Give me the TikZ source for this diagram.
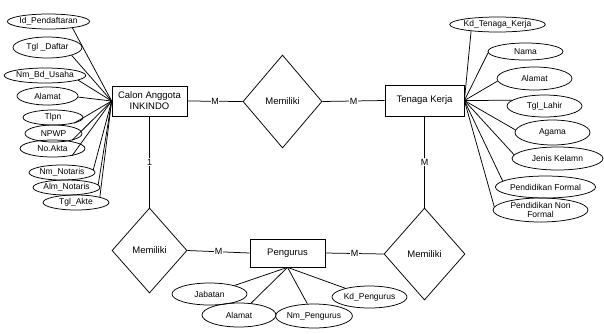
\documentclass[tikz,border=0pt]{standalone}
\usepackage{fontspec}
\setmainfont{Liberation Sans}
\usetikzlibrary{shapes.geometric}

\begin{document}
\begin{tikzpicture}[x=1pt, y=-1pt,
  entity/.style={draw, line width=0.75pt, rectangle, inner sep=0pt, align=center, font=\fontsize{9.5}{11}\selectfont},
  relation/.style={draw, line width=0.75pt, diamond, inner sep=0pt, font=\fontsize{9.5}{11}\selectfont},
  attrib/.style={draw, line width=0.75pt, ellipse, inner sep=0pt, align=center, font=\fontsize{8.5}{9.5}\selectfont},
  link/.style={line width=0.75pt},
  card/.style={fill=white, inner sep=0.5pt, font=\fontsize{9}{10}\selectfont}]
  \useasboundingbox (0,0) rectangle (604,333);
  % entities
  \node[entity, minimum width=75pt, minimum height=30pt] (calon) at (149.5,101) {Calon Anggota\\INKINDO};
  \node[entity, minimum width=79pt, minimum height=31pt] (tenaga) at (424.5,100.5) {Tenaga Kerja};
  \node[entity, minimum width=75pt, minimum height=28pt] (pengurus) at (287.5,253) {Pengurus};
  % relations
  \node[relation, minimum width=79pt, minimum height=93pt] (memTop) at (282.5,101.5) {Memiliki};
  \node[relation, minimum width=75pt, minimum height=85pt] (memLeft) at (149.5,250.5) {Memiliki};
  \node[relation, minimum width=81pt, minimum height=92pt] (memRight) at (424.5,254) {Memiliki};
  % relation lines
  \draw[link] (calon.east) -- node[card]{M} (memTop.west);
  \draw[link] (memTop.east) -- node[card]{M} (tenaga.west);
  \draw[link] (calon.south) -- node[card]{1} (memLeft.north);
  \draw[link] (tenaga.south) -- node[card]{M} (memRight.north);
  \draw[link] (memLeft.east) -- node[card]{M} (pengurus.west);
  \draw[link] (pengurus.east) -- node[card]{M} (memRight.west);
  % attributes of Calon Anggota INKINDO
  \node[attrib, minimum width=72pt, minimum height=15pt] (idDaftar) at (48.5,21.5) {Id\_Pendaftaran};
  \node[attrib, minimum width=69pt, minimum height=21pt] (tglDaftar) at (47.5,47.5) {Tgl \_Daftar};
  \node[attrib, minimum width=66pt, minimum height=15pt] (nmUsaha) at (45,75.5) {Nm\_Bd\_Usaha};
  \node[attrib, minimum width=61pt, minimum height=18pt] (alamatCalon) at (47.5,96) {Alamat};
  \node[attrib, minimum width=60pt, minimum height=15pt] (tlpn) at (53,117.5) {Tlpn};
  \node[attrib, minimum width=57pt, minimum height=17pt] (npwp) at (53.5,133.5) {NPWP};
  \node[attrib, minimum width=65pt, minimum height=17pt] (noAkta) at (52.5,148.5) {No.Akta};
  \node[attrib, minimum width=66pt, minimum height=15pt] (nmNotaris) at (62,172.5) {Nm\_Notaris};
  \node[attrib, minimum width=67pt, minimum height=15pt] (almNotaris) at (66.5,187.5) {Alm\_Notaris};
  \node[attrib, minimum width=66pt, minimum height=15pt] (tglAkte) at (76,202.5) {Tgl\_Akte};
  \draw[link] (idDaftar.-15) -- (calon.west);
  \draw[link] (tglDaftar.-18) -- (calon.west);
  \draw[link] (nmUsaha.-8) -- (calon.west);
  \draw[link] (alamatCalon.-2) -- (calon.west);
  \draw[link] (tlpn.-15) -- (calon.west);
  \draw[link] (npwp.-20) -- (calon.west);
  \draw[link] (noAkta.-20) -- (calon.west);
  \draw[link] (nmNotaris.5) -- (calon.west);
  \draw[link] (almNotaris.5) -- (calon.west);
  \draw[link] (tglAkte.13) -- (calon.west);
  % attributes of Tenaga Kerja
  \node[attrib, minimum width=79pt, minimum height=15pt] (kdTenaga) at (497.5,24.5) {Kd\_Tenaga\_Kerja};
  \node[attrib, minimum width=75pt, minimum height=17pt] (nama) at (525.5,51.5) {Nama};
  \node[attrib, minimum width=75pt, minimum height=23pt] (alamatTenaga) at (534.5,78.5) {Alamat};
  \node[attrib, minimum width=75pt, minimum height=22pt] (tglLahir) at (544.5,106) {Tgl\_Lahir};
  \node[attrib, minimum width=75pt, minimum height=25pt] (agama) at (552.5,132.5) {Agama};
  \node[attrib, minimum width=91pt, minimum height=23pt] (kelamin) at (557.5,158.5) {Jenis Kelamn};
  \node[attrib, minimum width=87pt, minimum height=22pt] (pendFormal) at (545.5,187) {Pendidikan Formal};
  \node[attrib, minimum width=95pt, minimum height=24pt] (pendNon) at (540.5,210) {Pendidikan Non\\Formal};
  \draw[link] (kdTenaga.-166) -- (tenaga.east);
  \draw[link] (nama.182) -- (tenaga.east);
  \draw[link] (alamatTenaga.184) -- (tenaga.east);
  \draw[link] (tglLahir.170) -- (tenaga.east);
  \draw[link] (agama.176) -- (tenaga.east);
  \draw[link] (kelamin.175) -- (tenaga.east);
  \draw[link] (pendFormal.172) -- (tenaga.east);
  \draw[link] (pendNon.176) -- (tenaga.east);
  % attributes of Pengurus
  \node[attrib, minimum width=75pt, minimum height=22pt] (jabatan) at (209.5,294) {Jabatan};
  \node[attrib, minimum width=74pt, minimum height=24pt] (alamatPengurus) at (239,315) {Alamat};
  \node[attrib, minimum width=76pt, minimum height=24pt] (nmPengurus) at (314,316) {Nm\_Pengurus};
  \node[attrib, minimum width=75pt, minimum height=22pt] (kdPengurus) at (369.5,297) {Kd\_Pengurus};
  \draw[link] (jabatan) -- (pengurus.south);
  \draw[link] (alamatPengurus) -- (pengurus.south);
  \draw[link] (nmPengurus) -- (pengurus.south);
  \draw[link] (kdPengurus) -- (pengurus.south);
\end{tikzpicture}
\end{document}
